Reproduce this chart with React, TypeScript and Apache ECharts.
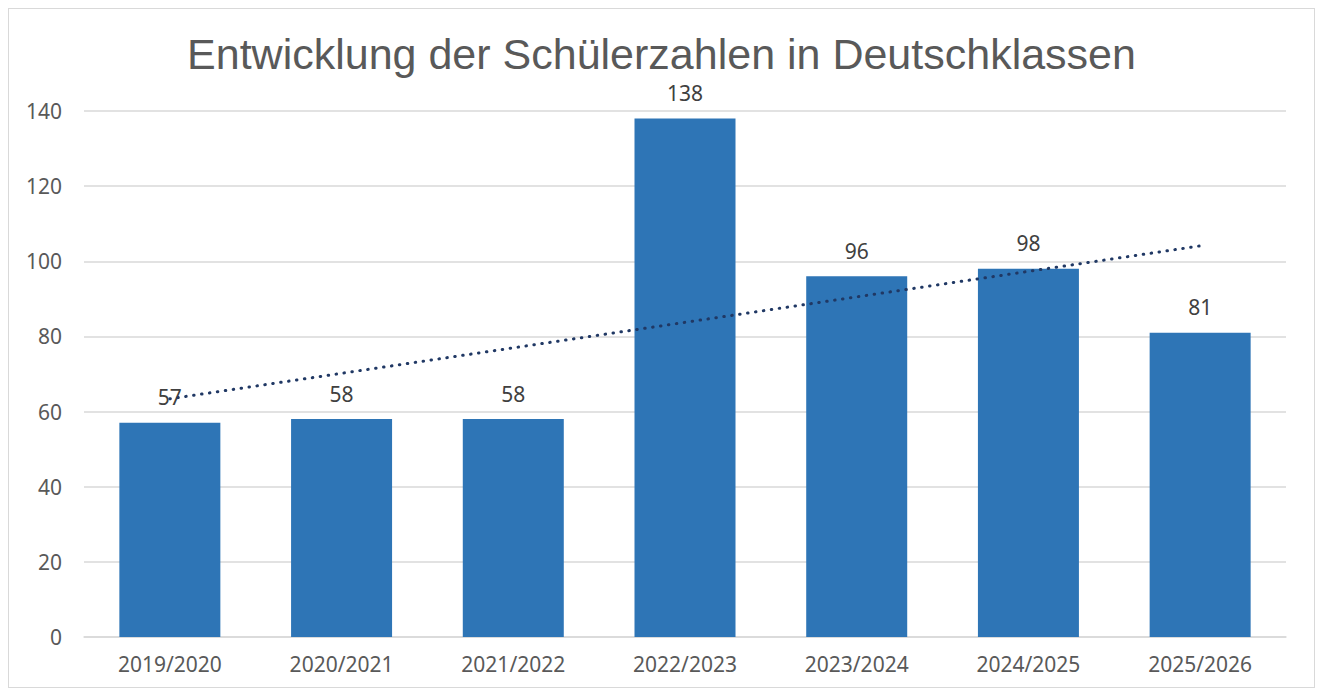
import React, { useEffect, useRef } from "react";
import * as echarts from "echarts";

const titleText = "Entwicklung der Schülerzahlen in Deutschklassen";
const categories = ["2019/2020", "2020/2021", "2021/2022", "2022/2023", "2023/2024", "2024/2025", "2025/2026"];
const students = [57, 58, 58, 138, 96, 98, 81];
// linear trend line: start and end values
const trend = [63.4, null, null, null, null, null, 104.1];

export default function App() {
  const ref = useRef<HTMLDivElement>(null);
  useEffect(() => {
    if (!ref.current) return;
    const chart = echarts.init(ref.current, undefined, { renderer: "svg" });
    const font = "'Noto Sans', 'DejaVu Sans', sans-serif";
    chart.setOption({
      animation: false,
      backgroundColor: "#ffffff",
      title: {
        text: titleText,
        left: "center",
        top: 18,
        textStyle: {
          fontFamily: "'Liberation Sans', Arial, sans-serif",
          fontSize: 43,
          fontWeight: "normal",
          color: "#595959",
        },
      },
      grid: { left: 75, right: 28, top: 102, bottom: 50, containLabel: false },
      xAxis: {
        type: "category",
        data: categories,
        axisTick: { show: false },
        axisLine: { lineStyle: { color: "#d9d9d9", width: 1.5 } },
        axisLabel: { color: "#595959", fontSize: 21, fontFamily: font, margin: 16 },
      },
      yAxis: {
        type: "value",
        min: 0,
        max: 140,
        interval: 20,
        axisLine: { show: false },
        axisTick: { show: false },
        splitLine: { lineStyle: { color: "#d9d9d9", width: 1.5 } },
        axisLabel: { color: "#595959", fontSize: 21, fontFamily: font, margin: 22 },
      },
      series: [
        {
          type: "bar",
          data: students,
          barWidth: 101,
          itemStyle: { color: "#2E75B6" },
          label: {
            show: true,
            position: "top",
            distance: 15,
            color: "#404040",
            fontSize: 21,
            fontFamily: font,
          },
        },
        {
          type: "line",
          data: trend,
          connectNulls: true,
          showSymbol: false,
          symbol: "none",
          z: 5,
          lineStyle: { color: "#203864", width: 3, type: [0.5, 7.5], cap: "round" },
        },
      ],
    });
    return () => chart.dispose();
  }, []);
  return (
    <div
      ref={ref}
      style={{ width: 1307, height: 680, border: "1px solid #d9d9d9", boxSizing: "border-box" }}
    />
  );
}
